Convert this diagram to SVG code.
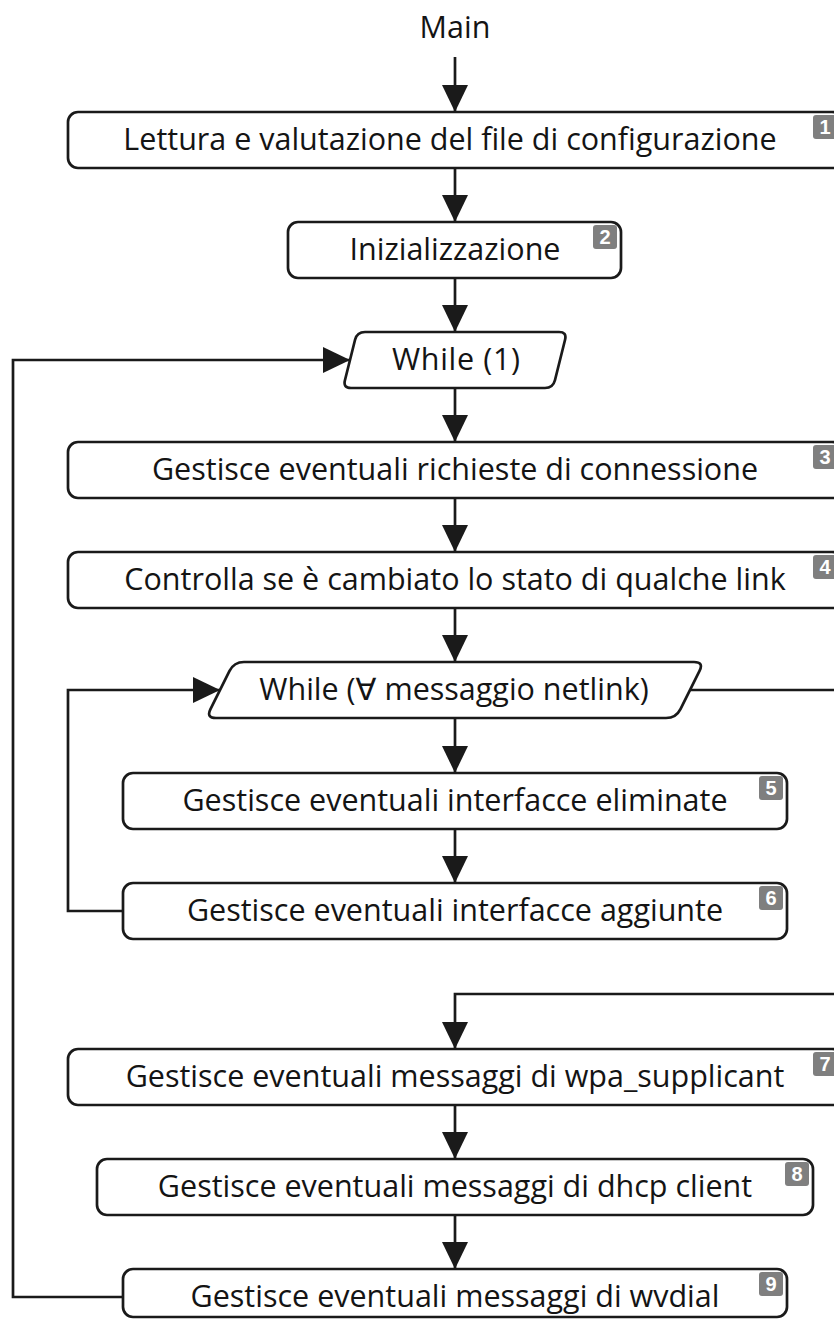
<svg xmlns="http://www.w3.org/2000/svg" width="834" height="1319" viewBox="0 0 834 1319">
  <defs>
    <marker id="arrow" markerUnits="userSpaceOnUse" markerWidth="26" markerHeight="27" refX="27" refY="13" orient="auto">
      <path d="M0,0 L27,13 L0,26 Z" fill="#1a1a1a"/>
    </marker>
    <style>
      .box { fill: #ffffff; stroke: #1a1a1a; stroke-width: 2.7; }
      .lbl { font-family: "Open Sans", "DejaVu Sans", sans-serif; font-size: 30.5px; fill: #141414; text-anchor: middle; }
      .badge { fill: #7f7f7f; }
      .num { font-family: "Liberation Sans", "DejaVu Sans", sans-serif; font-size: 20px; font-weight: bold; fill: #ffffff; text-anchor: middle; }
      .conn { fill: none; stroke: #1a1a1a; stroke-width: 2.7; }
    </style>
  </defs>
  <rect width="834" height="1319" fill="#ffffff"/>

  <!-- connectors -->
  <g id="connectors" class="conn">
    <path d="M455,57 V112" marker-end="url(#arrow)"/>
    <path d="M455,168 V222" marker-end="url(#arrow)"/>
    <path d="M455,278 V332" marker-end="url(#arrow)"/>
    <path d="M455,388 V442" marker-end="url(#arrow)"/>
    <path d="M455,498 V552" marker-end="url(#arrow)"/>
    <path d="M455,608 V662" marker-end="url(#arrow)"/>
    <path d="M455,718 V773" marker-end="url(#arrow)"/>
    <path d="M455,829 V883" marker-end="url(#arrow)"/>
    <path d="M455,1105 V1159" marker-end="url(#arrow)"/>
    <path d="M455,1215 V1269" marker-end="url(#arrow)"/>
    <!-- outer loop back to While (1) -->
    <path d="M123,1297 H13 V360 H350" marker-end="url(#arrow)"/>
    <!-- inner loop back to While (netlink) -->
    <path d="M123,911 H68 V690 H220" marker-end="url(#arrow)"/>
    <!-- exit of the netlink loop -->
    <path d="M690,690 H850 V994 H455 V1049" marker-end="url(#arrow)"/>
  </g>

  <g id="start">
    <text class="lbl" x="455" y="38">Main</text>
  </g>

  <g id="n1">
    <rect class="box" x="68" y="112" width="774" height="56" rx="10"/>
    <text class="lbl" x="450" y="150">Lettura e valutazione del file di configurazione</text>
    <rect class="badge" x="813" y="115" width="24" height="24" rx="3"/>
    <text class="num" x="825" y="134">1</text>
  </g>

  <g id="n2">
    <rect class="box" x="288" y="222" width="333" height="56" rx="10"/>
    <text class="lbl" x="455" y="260">Inizializzazione</text>
    <rect class="badge" x="593" y="225" width="24" height="24" rx="3"/>
    <text class="num" x="605" y="244">2</text>
  </g>

  <g id="loop1">
    <path class="box" d="M365,332 L559,332 Q567,332 565.06,339.76 L554.94,380.24 Q553,388 545,388 L351,388 Q343,388 344.94,380.24 L355.06,339.76 Q357,332 365,332 Z"/>
    <text class="lbl" x="456" y="370" textLength="128" lengthAdjust="spacing">While (1)</text>
  </g>

  <g id="n3">
    <rect class="box" x="68" y="442" width="774" height="56" rx="10"/>
    <text class="lbl" x="455" y="480">Gestisce eventuali richieste di connessione</text>
    <rect class="badge" x="813" y="445" width="24" height="24" rx="3"/>
    <text class="num" x="825" y="464">3</text>
  </g>

  <g id="n4">
    <rect class="box" x="68" y="552" width="774" height="56" rx="10"/>
    <text class="lbl" x="455" y="590">Controlla se è cambiato lo stato di qualche link</text>
    <rect class="badge" x="813" y="555" width="24" height="24" rx="3"/>
    <text class="num" x="825" y="574">4</text>
  </g>

  <g id="loop2">
    <path class="box" d="M244,662 L694,662 Q704,662 699.53,670.94 L680.47,709.06 Q676,718 666,718 L216,718 Q206,718 210.47,709.06 L229.53,670.94 Q234,662 244,662 Z"/>
    <text class="lbl" x="454" y="700">While (∀ messaggio netlink)</text>
  </g>

  <g id="n5">
    <rect class="box" x="123" y="773" width="664" height="56" rx="10"/>
    <text class="lbl" x="455" y="811">Gestisce eventuali interfacce eliminate</text>
    <rect class="badge" x="759" y="776" width="24" height="24" rx="3"/>
    <text class="num" x="771" y="795">5</text>
  </g>

  <g id="n6">
    <rect class="box" x="123" y="883" width="664" height="56" rx="10"/>
    <text class="lbl" x="455" y="921">Gestisce eventuali interfacce aggiunte</text>
    <rect class="badge" x="759" y="886" width="24" height="24" rx="3"/>
    <text class="num" x="771" y="905">6</text>
  </g>

  <g id="n7">
    <rect class="box" x="68" y="1049" width="774" height="56" rx="10"/>
    <text class="lbl" x="455" y="1087">Gestisce eventuali messaggi di wpa_supplicant</text>
    <rect class="badge" x="813" y="1052" width="24" height="24" rx="3"/>
    <text class="num" x="825" y="1071">7</text>
  </g>

  <g id="n8">
    <rect class="box" x="97" y="1159" width="716" height="56" rx="10"/>
    <text class="lbl" x="455" y="1197">Gestisce eventuali messaggi di dhcp client</text>
    <rect class="badge" x="785" y="1162" width="24" height="24" rx="3"/>
    <text class="num" x="797" y="1181">8</text>
  </g>

  <g id="n9">
    <rect class="box" x="123" y="1269" width="664" height="48" rx="10"/>
    <text class="lbl" x="455" y="1307">Gestisce eventuali messaggi di wvdial</text>
    <rect class="badge" x="759" y="1272" width="24" height="24" rx="3"/>
    <text class="num" x="771" y="1291">9</text>
  </g>
</svg>
